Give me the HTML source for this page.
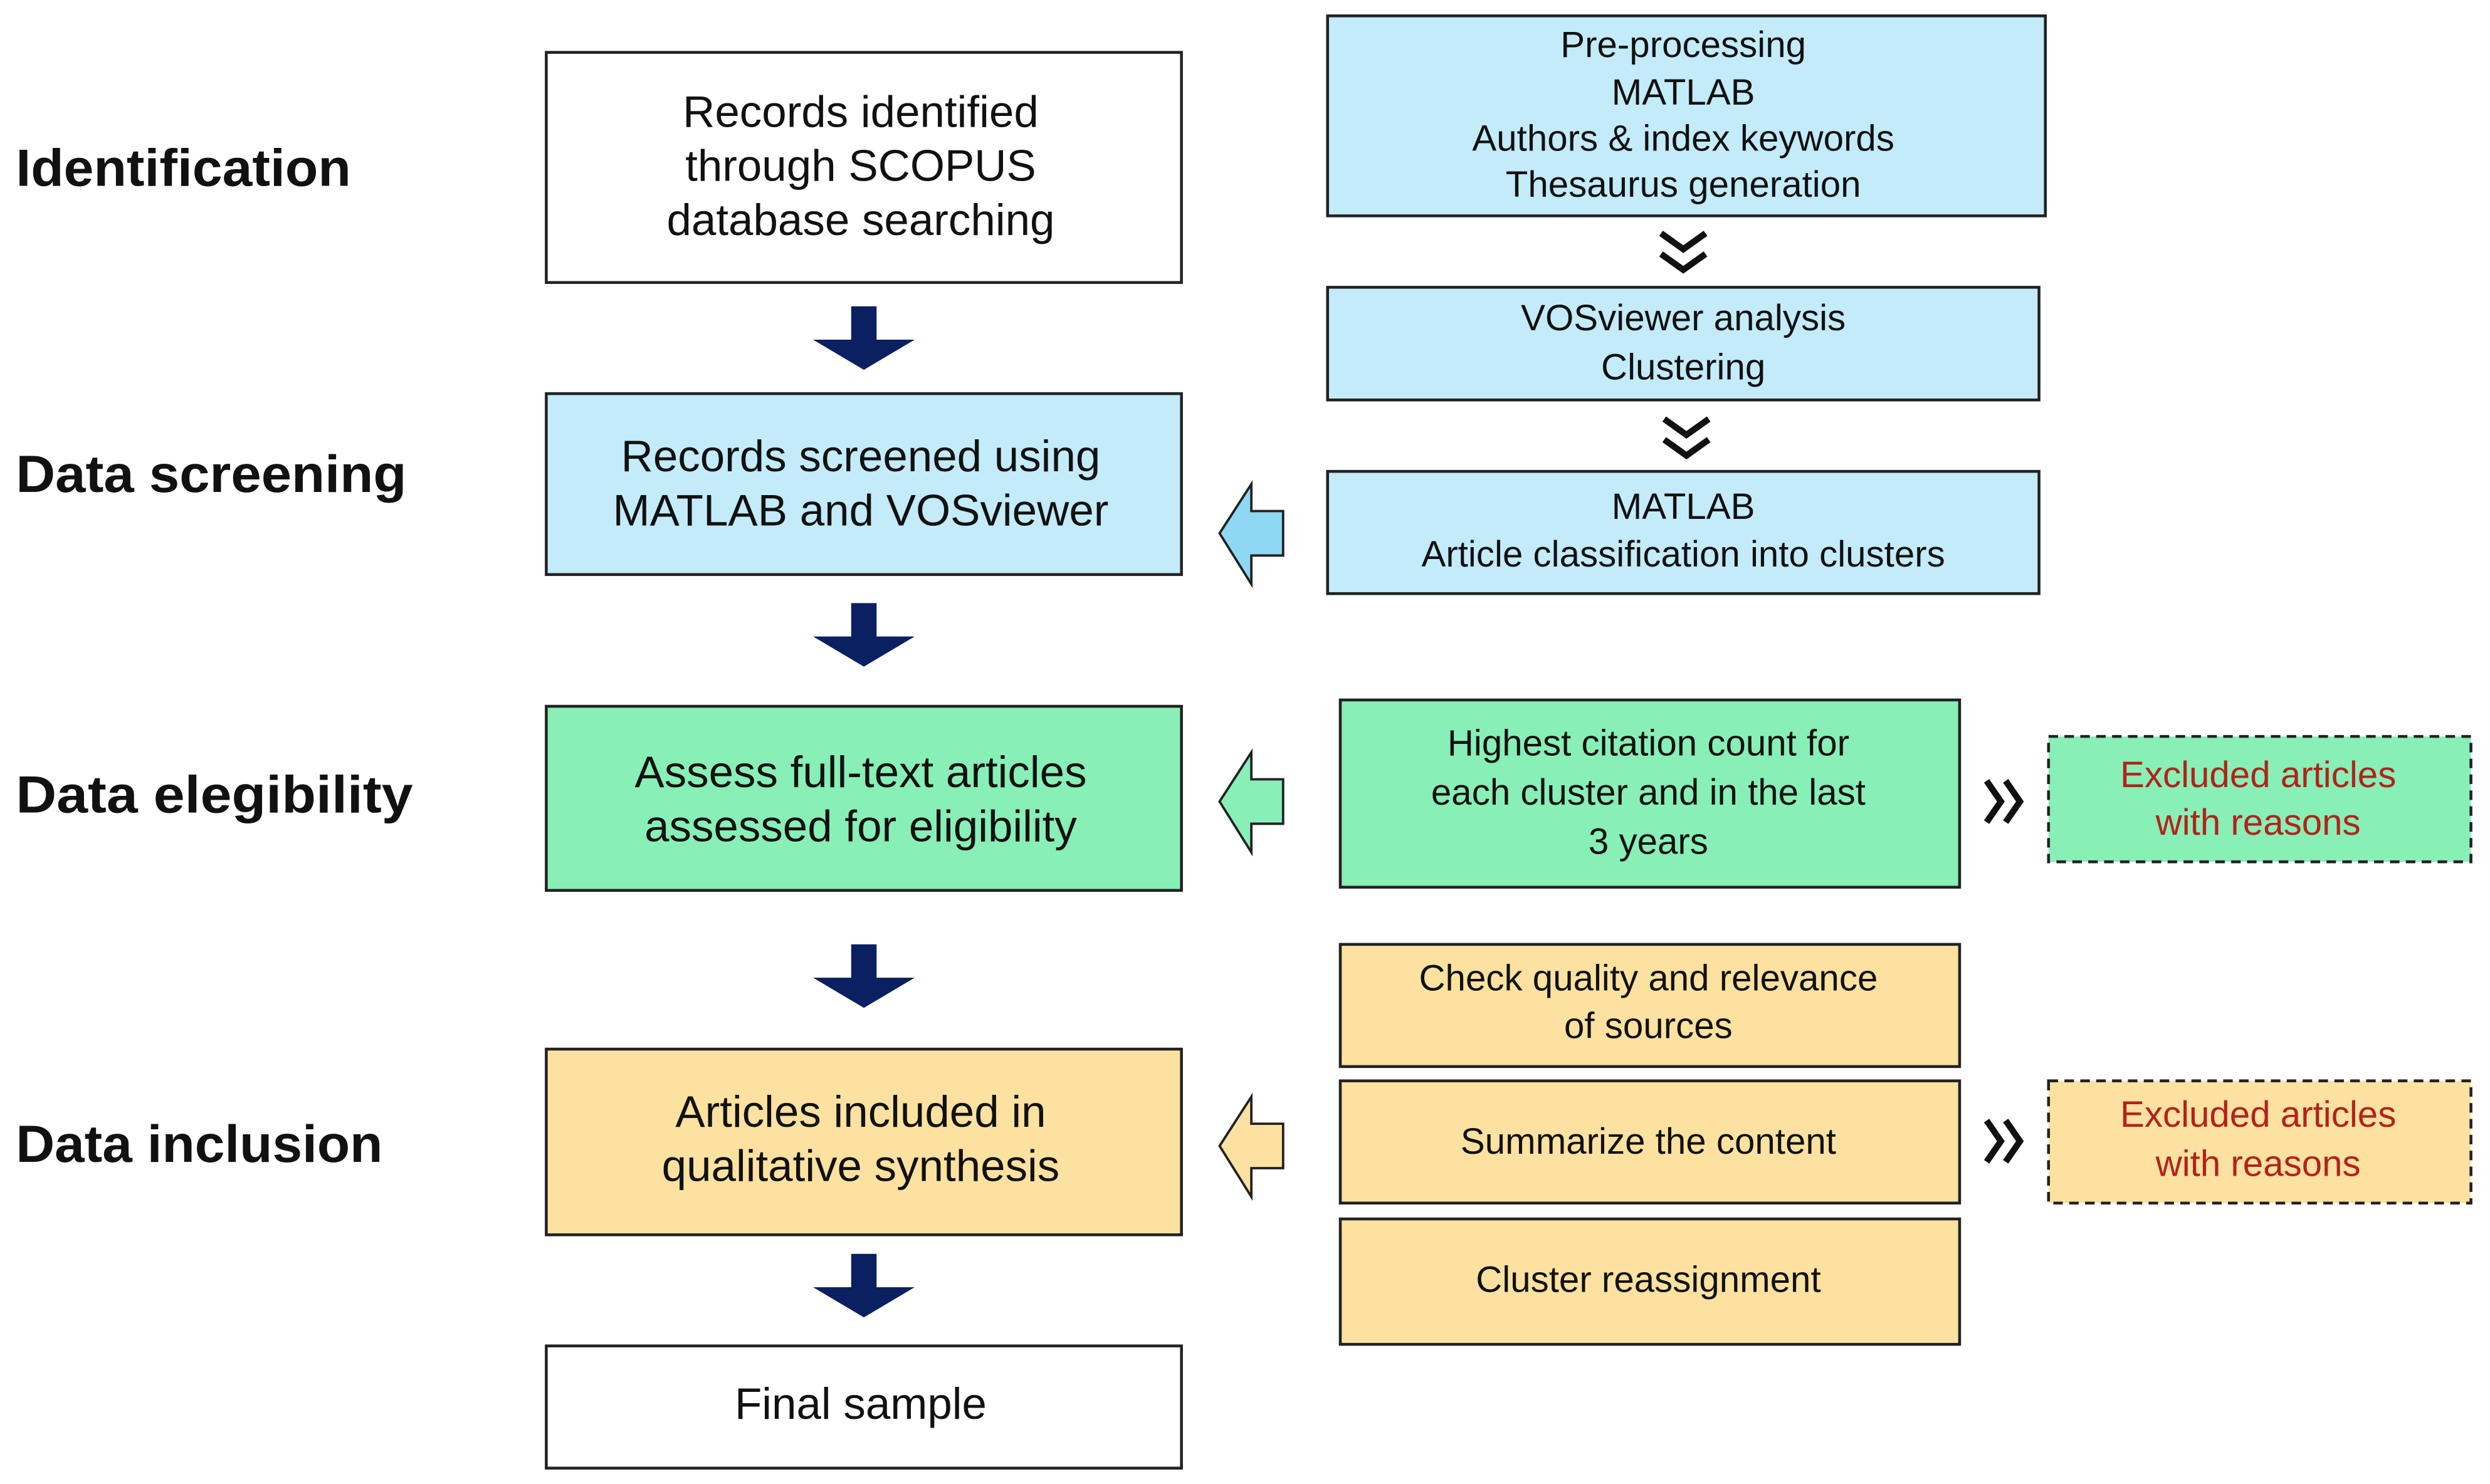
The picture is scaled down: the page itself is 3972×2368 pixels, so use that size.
<!DOCTYPE html>
<html><head><meta charset="utf-8"><style>html,body{margin:0;padding:0;background:#fff}svg{display:block}</style></head>
<body>
<svg width="3972" height="2368" viewBox="0 0 1568 935" preserveAspectRatio="none" xmlns="http://www.w3.org/2000/svg" font-family="Liberation Sans, sans-serif">
<rect width="1568" height="935" fill="#fff"/>
<g font-size="33" font-weight="bold" fill="#111">
<text x="10" y="117" textLength="211" lengthAdjust="spacingAndGlyphs">Identification</text>
<text x="10" y="310" textLength="246" lengthAdjust="spacingAndGlyphs">Data screening</text>
<text x="10" y="512" textLength="250" lengthAdjust="spacingAndGlyphs">Data elegibility</text>
<text x="10" y="732" textLength="231" lengthAdjust="spacingAndGlyphs">Data inclusion</text>
</g>
<g stroke="#222" stroke-width="1.8">
<rect x="344" y="33" width="400" height="145" fill="#fff"/>
<rect x="344" y="248" width="400" height="114" fill="#c3ebf9"/>
<rect x="344" y="445" width="400" height="116" fill="#88efb6"/>
<rect x="344" y="661" width="400" height="117" fill="#fce1a0"/>
<rect x="344" y="848" width="400" height="77" fill="#fff"/>
<rect x="836" y="10" width="452" height="126" fill="#c3ebf9"/>
<rect x="836" y="181" width="448" height="71" fill="#c3ebf9"/>
<rect x="836" y="297" width="448" height="77" fill="#c3ebf9"/>
<rect x="844" y="441" width="390" height="118" fill="#88efb6"/>
<rect x="844" y="595" width="390" height="77" fill="#fce1a0"/>
<rect x="844" y="681" width="390" height="77" fill="#fce1a0"/>
<rect x="844" y="768" width="390" height="79" fill="#fce1a0"/>
<rect x="1290" y="464" width="266" height="79" fill="#88efb6" stroke-dasharray="6,4"/>
<rect x="1290" y="681" width="266" height="77" fill="#fce1a0" stroke-dasharray="6,4"/>
</g>
<g fill="#0b2060">
<path d="M536 193h16v21h24l-32 19l-32-19h24z"/>
<path d="M536 380h16v21h24l-32 19l-32-19h24z"/>
<path d="M536 595h16v21h24l-32 19l-32-19h24z"/>
<path d="M536 790h16v21h24l-32 19l-32-19h24z"/>
</g>
<g stroke="#222" stroke-width="1.5">
<path d="M768 336L788 305V322H808V350H788V368Z" fill="#8fd8f3"/>
<path d="M768 505L788 474V491H808V519H788V537Z" fill="#88efb6"/>
<path d="M768 722L788 691V708H808V736H788V754Z" fill="#fce1a0"/>
</g>
<g fill="none" stroke="#111" stroke-width="4">
<path d="M1046 147l14 10l14-10M1046 160l14 10l14-10"/>
<path d="M1048 264l14 10l14-10M1048 277l14 10l14-10"/>
<path d="M1251 492l9 13l-9 13M1263 492l9 13l-9 13"/>
<path d="M1251 706l9 13l-9 13M1263 706l9 13l-9 13"/>
</g>
<g font-size="28" fill="#111" text-anchor="middle">
<text x="542" y="80">Records identified</text>
<text x="542" y="114">through SCOPUS</text>
<text x="542" y="148">database searching</text>
<text x="542" y="297">Records screened using</text>
<text x="542" y="331">MATLAB and VOSviewer</text>
<text x="542" y="496">Assess full-text articles</text>
<text x="542" y="530">assessed for eligibility</text>
<text x="542" y="710">Articles included in</text>
<text x="542" y="744">qualitative synthesis</text>
<text x="542" y="894">Final sample</text>
</g>
<g font-size="23" fill="#111" text-anchor="middle">
<text x="1060" y="36">Pre-processing</text>
<text x="1060" y="66">MATLAB</text>
<text x="1060" y="95">Authors &amp; index keywords</text>
<text x="1060" y="124">Thesaurus generation</text>
<text x="1060" y="208">VOSviewer analysis</text>
<text x="1060" y="239">Clustering</text>
<text x="1060" y="327">MATLAB</text>
<text x="1060" y="357">Article classification into clusters</text>
<text x="1038" y="476">Highest citation count for</text>
<text x="1038" y="507">each cluster and in the last</text>
<text x="1038" y="538">3 years</text>
<text x="1038" y="624">Check quality and relevance</text>
<text x="1038" y="654">of sources</text>
<text x="1038" y="727">Summarize the content</text>
<text x="1038" y="814">Cluster reassignment</text>
</g>
<g font-size="23" fill="#b3221b" text-anchor="middle">
<text x="1422" y="496">Excluded articles</text>
<text x="1422" y="526">with reasons</text>
<text x="1422" y="710">Excluded articles</text>
<text x="1422" y="741">with reasons</text>
</g>
</svg>
</body></html>
